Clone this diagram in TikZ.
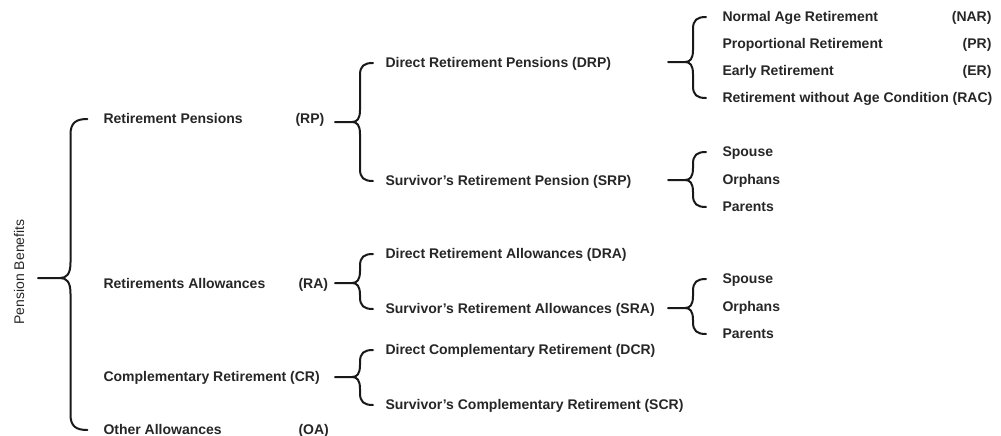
\documentclass[tikz,border=0pt]{standalone}
\usepackage{fontspec}
\setmainfont{Liberation Sans}
\usetikzlibrary{calc}

\tikzset{every picture/.style={line width=0.75pt}}

% curly brace: #1 size, #2 tail point, #3 top label, #4 bottom label
\newcommand{\drawbrace}[4][1]{%
  \draw[brace] let \p1=(#2), \p2=(#3.west), \p3=(#4.west), \n1={0.75*#1} in
    (\p1) -- ({\x1+17*\n1},\y1)
      .. controls ({\x1+22*\n1},\y1) and ({\x1+25*\n1},{\y1+3*\n1}) .. ({\x1+25*\n1},{\y1+12*\n1})
      -- ({\x1+25*\n1},{\y2-12*\n1})
      .. controls ({\x1+25*\n1},{\y2-3*\n1}) and ({\x1+29*\n1},\y2) .. ({\x1+38*\n1},\y2)
    ({\x1+17*\n1},\y1)
      .. controls ({\x1+22*\n1},\y1) and ({\x1+25*\n1},{\y1-3*\n1}) .. ({\x1+25*\n1},{\y1-12*\n1})
      -- ({\x1+25*\n1},{\y3+12*\n1})
      .. controls ({\x1+25*\n1},{\y3+3*\n1}) and ({\x1+29*\n1},\y3) .. ({\x1+38*\n1},\y3);
}

\begin{document}
\begin{tikzpicture}[x=0.75pt,y=-0.75pt,
  lbl/.style={anchor=west,inner sep=0pt,text height=8pt,text depth=2pt,
    font=\fontsize{10.5}{12}\selectfont\bfseries,text=black!85},
  brace/.style={line width=1.5pt,line cap=round,color=black!90}]
\useasboundingbox (0,0) rectangle (1001,436);

% Text Node
\node[lbl,anchor=center,rotate=90,font=\fontsize{10.5}{12}\selectfont] (pb) at (20,272) {Pension Benefits};

% first level
\node[lbl] (rp) at (103,119) {Retirement Pensions};
\node[lbl] (rp-a) at (295,119) {(RP)};
\node[lbl] (ra) at (103,284) {Retirements Allowances};
\node[lbl] (ra-a) at (298,284) {(RA)};
\node[lbl] (cr) at (103,377) {Complementary Retirement (CR)};
\node[lbl] (oa) at (103,430) {Other Allowances};
\node[lbl] (oa-a) at (298,430) {(OA)};

% second level
\node[lbl] (drp) at (385,63) {Direct Retirement Pensions (DRP)};
\node[lbl] (srp) at (385,181) {Survivor's Retirement Pension (SRP)};
\node[lbl] (dra) at (385,254) {Direct Retirement Allowances (DRA)};
\node[lbl] (sra) at (385,309) {Survivor's Retirement Allowances (SRA)};
\node[lbl] (dcr) at (385,350) {Direct Complementary Retirement (DCR)};
\node[lbl] (scr) at (385,405) {Survivor's Complementary Retirement (SCR)};

% third level
\node[lbl] (nar) at (722,17) {Normal Age Retirement};
\node[lbl,anchor=east] (nar-a) at (992,17) {(NAR)};
\node[lbl] (pr) at (722,44) {Proportional Retirement};
\node[lbl,anchor=east] (pr-a) at (992,44) {(PR)};
\node[lbl] (er) at (722,71) {Early Retirement};
\node[lbl,anchor=east] (er-a) at (992,71) {(ER)};
\node[lbl] (rac) at (722,98) {Retirement without Age Condition (RAC)};
\node[lbl] (sp1) at (722,152) {Spouse};
\node[lbl] (or1) at (722,180) {Orphans};
\node[lbl] (pa1) at (722,207) {Parents};
\node[lbl] (sp2) at (722,279) {Spouse};
\node[lbl] (or2) at (722,307) {Orphans};
\node[lbl] (pa2) at (722,334) {Parents};

% brace tails
\coordinate (pb-t) at (38,278);
\coordinate (rp-t) at (335,122);
\coordinate (ra-t) at (335,283);
\coordinate (cr-t) at (335,377);
\coordinate (drp-t) at (668,62);
\coordinate (srp-t) at (668,180);
\coordinate (sra-t) at (668,308);

%Curve Lines
\drawbrace[1.3]{pb-t}{rp}{oa}
\drawbrace{rp-t}{drp}{srp}
\drawbrace{ra-t}{dra}{sra}
\drawbrace{cr-t}{dcr}{scr}
\drawbrace{drp-t}{nar}{rac}
\drawbrace{srp-t}{sp1}{pa1}
\drawbrace{sra-t}{sp2}{pa2}

\end{tikzpicture}
\end{document}
